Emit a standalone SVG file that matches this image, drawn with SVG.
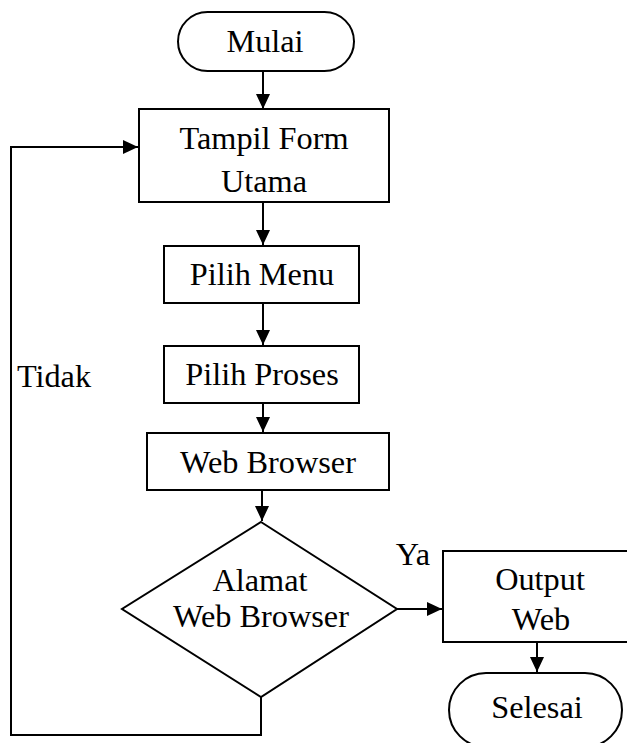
<svg xmlns="http://www.w3.org/2000/svg" width="627" height="743" viewBox="0 0 627 743">
<style>
.s{fill:#fff;stroke:#000;stroke-width:2}
.c{fill:none;stroke:#000;stroke-width:2}
text{font-family:"Liberation Serif","Times New Roman",serif;font-size:32.3px;fill:#000;text-anchor:middle}
</style>
<defs>
<marker id="ah" markerUnits="userSpaceOnUse" markerWidth="16" markerHeight="14" refX="15" refY="7" orient="auto">
<path d="M0,0 L15,7 L0,14 z" fill="#000"/>
</marker>
</defs>
<rect width="627" height="743" fill="#fff"/>
<g id="connectors">
<line class="c" x1="263" y1="71" x2="263" y2="109" marker-end="url(#ah)"/>
<line class="c" x1="263" y1="202" x2="263" y2="245" marker-end="url(#ah)"/>
<line class="c" x1="263" y1="303" x2="263" y2="345" marker-end="url(#ah)"/>
<line class="c" x1="263" y1="403" x2="263" y2="432" marker-end="url(#ah)"/>
<line class="c" x1="262" y1="490" x2="262" y2="521" marker-end="url(#ah)"/>
<line class="c" x1="397" y1="609" x2="442" y2="609" marker-end="url(#ah)"/>
<line class="c" x1="537" y1="642" x2="537" y2="672" marker-end="url(#ah)"/>
<polyline class="c" points="261,697 261,735 11,735 11,147 138,147" marker-end="url(#ah)"/>
<text x="54" y="387">Tidak</text>
<text x="413" y="565">Ya</text>
</g>
<g id="mulai">
<rect class="s" x="178" y="12" width="176" height="59" rx="29.5" ry="29.5"/>
<text x="265" y="52">Mulai</text>
</g>
<g id="tampil">
<rect class="s" x="139" y="109" width="250" height="93"/>
<text x="264" y="149">Tampil Form</text>
<text x="264" y="192">Utama</text>
</g>
<g id="pilih-menu">
<rect class="s" x="164" y="246" width="195" height="57"/>
<text x="262" y="285">Pilih Menu</text>
</g>
<g id="pilih-proses">
<rect class="s" x="164" y="346" width="195" height="57"/>
<text x="262" y="385">Pilih Proses</text>
</g>
<g id="web-browser">
<rect class="s" x="147" y="433" width="242" height="57"/>
<text x="268" y="473">Web Browser</text>
</g>
<g id="alamat">
<polygon class="s" points="261,522 397,609 261,697 122,609"/>
<text x="260" y="591">Alamat</text>
<text x="261" y="627">Web Browser</text>
</g>
<g id="output">
<rect class="s" x="443" y="551" width="196" height="91"/>
<text x="540" y="590">Output</text>
<text x="541" y="630">Web</text>
</g>
<g id="selesai">
<rect class="s" x="449" y="673" width="173" height="74" rx="37" ry="37"/>
<text x="537" y="718">Selesai</text>
</g>
</svg>
